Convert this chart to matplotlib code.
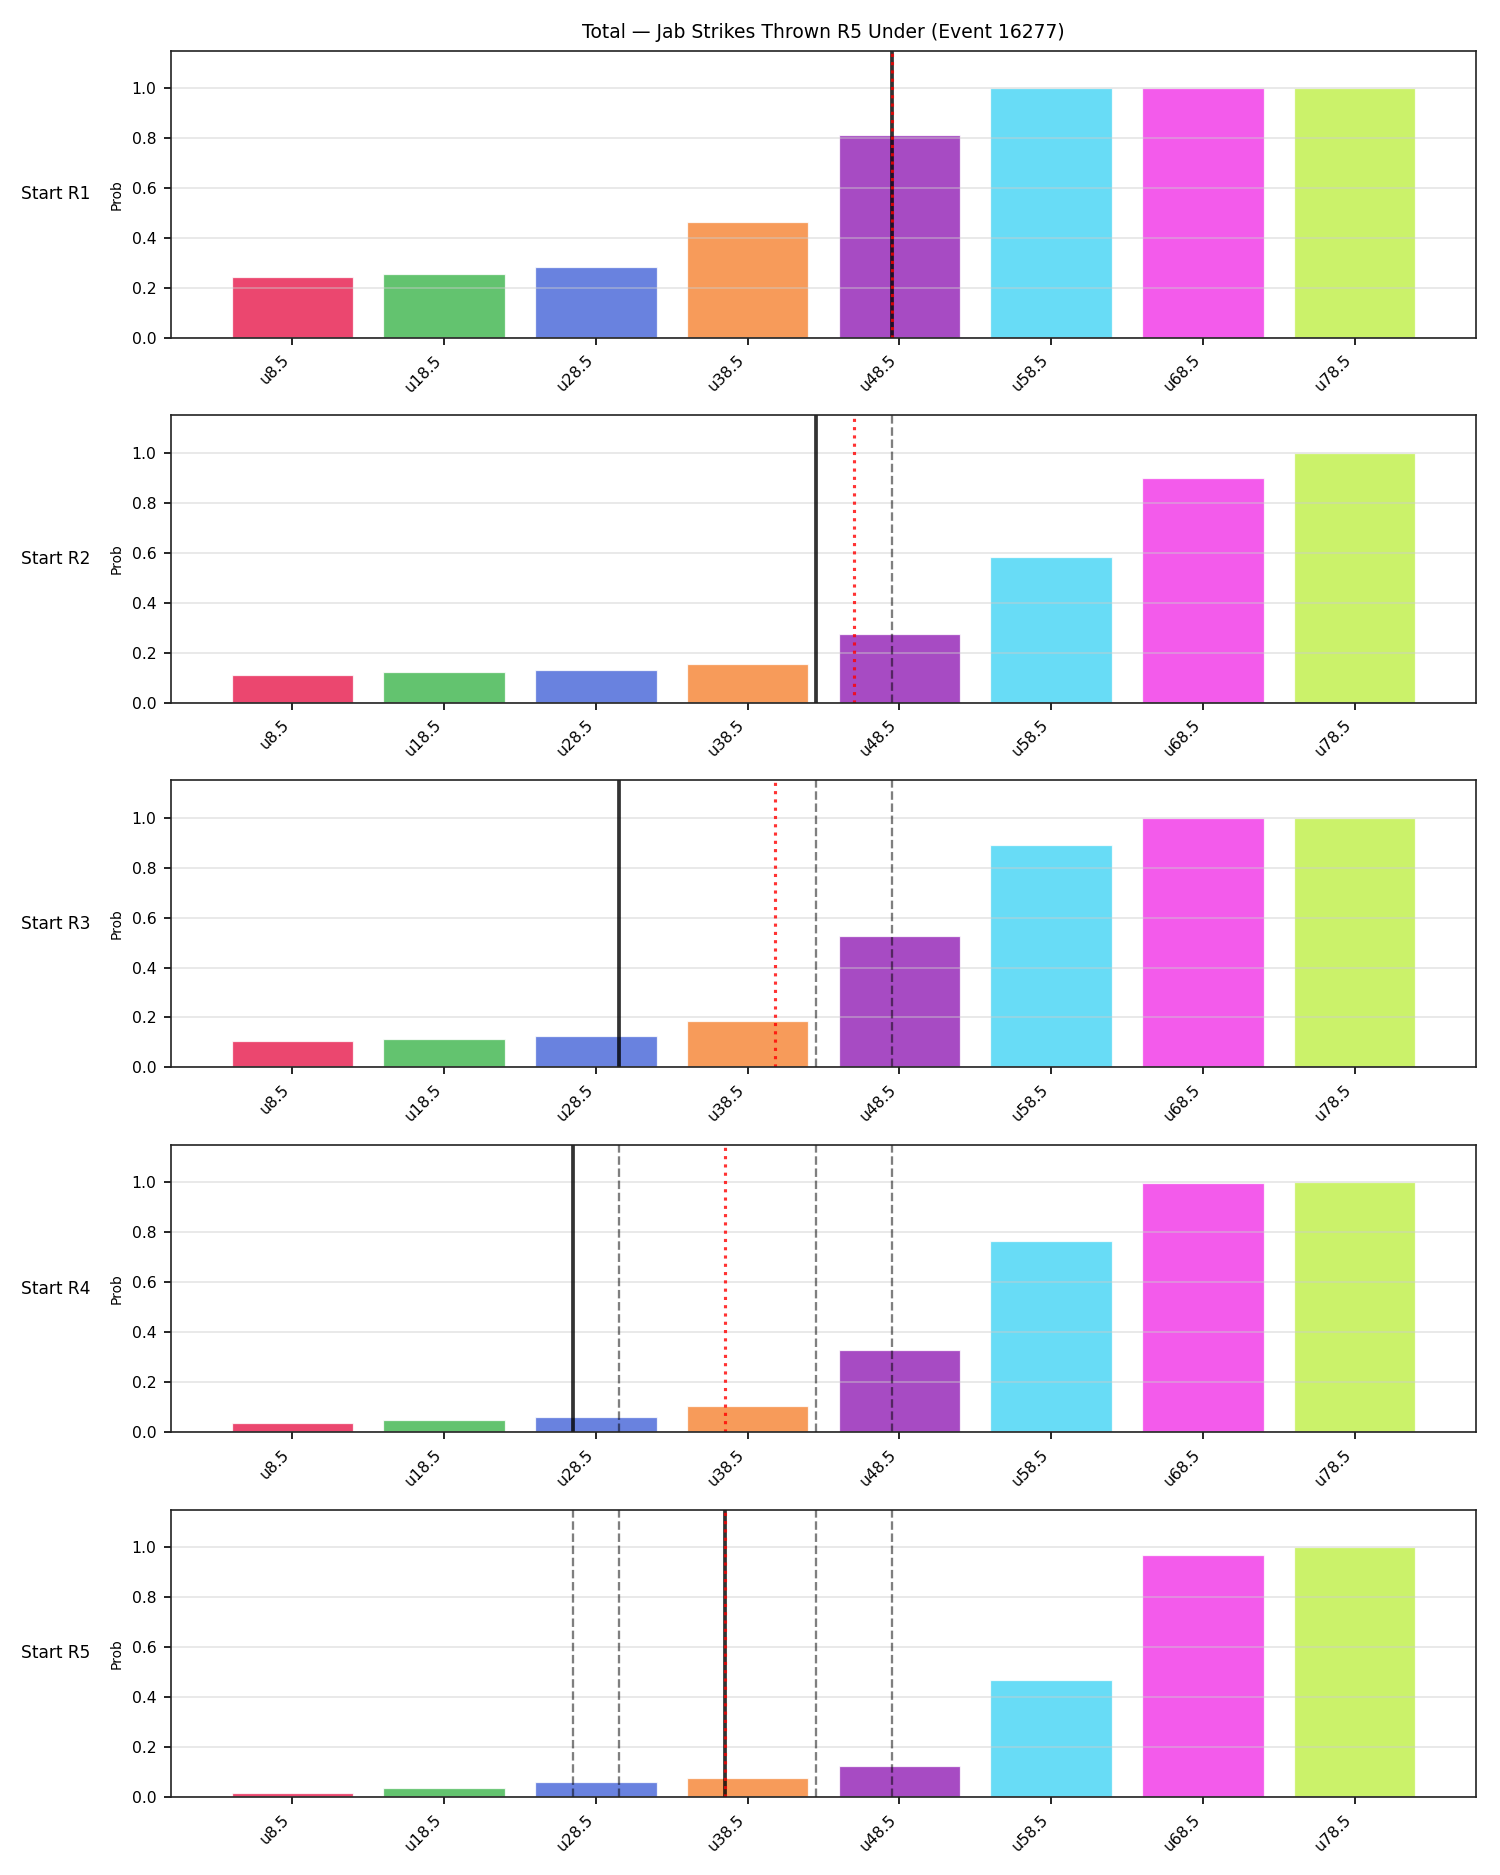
import matplotlib
matplotlib.use("Agg")
import matplotlib.pyplot as plt

# thresholds (under lines)
lines = [8.5, 18.5, 28.5, 38.5, 48.5, 58.5, 68.5, 78.5]
tick_labels = ["u8.5", "u18.5", "u28.5", "u38.5", "u48.5", "u58.5", "u68.5", "u78.5"]
row_labels = ["Start R1", "Start R2", "Start R3", "Start R4", "Start R5"]

# P(under) per starting round
prob_r1 = [0.243, 0.255, 0.283, 0.464, 0.813, 1.0, 1.0, 1.0]
prob_r2 = [0.111, 0.121, 0.129, 0.153, 0.273, 0.584, 0.900, 1.0]
prob_r3 = [0.107, 0.112, 0.126, 0.185, 0.527, 0.892, 0.998, 1.0]
prob_r4 = [0.035, 0.048, 0.060, 0.104, 0.329, 0.765, 0.998, 1.0]
prob_r5 = [0.015, 0.036, 0.061, 0.077, 0.124, 0.469, 0.968, 1.0]
probs = [prob_r1, prob_r2, prob_r3, prob_r4, prob_r5]

# current value (solid), projection (dotted), earlier rounds (dashed)
current = [48.0, 43.0, 30.0, 27.0, 37.0]
projected = [48.0, 45.5, 40.3, 37.0, 37.0]

colors = ["#e6194b", "#3cb44b", "#4363d8", "#f58231", "#911eb4",
          "#42d4f4", "#f032e6", "#bfef45"]

fig, axes = plt.subplots(5, 1, figsize=(10, 12.5), dpi=150)
fig.subplots_adjust(left=0.114, right=0.984, top=0.973, bottom=0.0416, hspace=0.27)

for i, ax in enumerate(axes):
    ax.bar(lines, probs[i], width=8, color=colors, alpha=0.8,
           edgecolor="white", linewidth=0.6)
    for prev in current[:i]:
        ax.axvline(prev, color="black", alpha=0.5, linestyle="--", linewidth=1.1)
    ax.axvline(current[i], color="black", alpha=0.8, linewidth=1.8)
    ax.axvline(projected[i], color="red", alpha=0.8, linestyle=":", linewidth=1.5)

    ax.set_xlim(0.5, 86.5)
    ax.set_ylim(0, 1.15)
    ax.set_xticks(lines)
    ax.set_xticklabels(tick_labels, rotation=45, ha="right", fontsize=7.5)
    ax.set_yticks([0, 0.2, 0.4, 0.6, 0.8, 1.0])
    ax.tick_params(axis="y", labelsize=7.5)
    ax.grid(axis="y", color="#cccccc", alpha=0.5, linewidth=0.8)
    ax.set_ylabel("Prob", fontsize=6.6)
    for s in ax.spines.values():
        s.set_color("#222222")
    ax.text(-0.062, 0.5, row_labels[i], transform=ax.transAxes,
            ha="right", va="center", fontsize=8.2)

axes[0].set_title("Total \u2014 Jab Strikes Thrown R5 Under (Event 16277)", fontsize=9)

fig.savefig("out.png", dpi=150)
